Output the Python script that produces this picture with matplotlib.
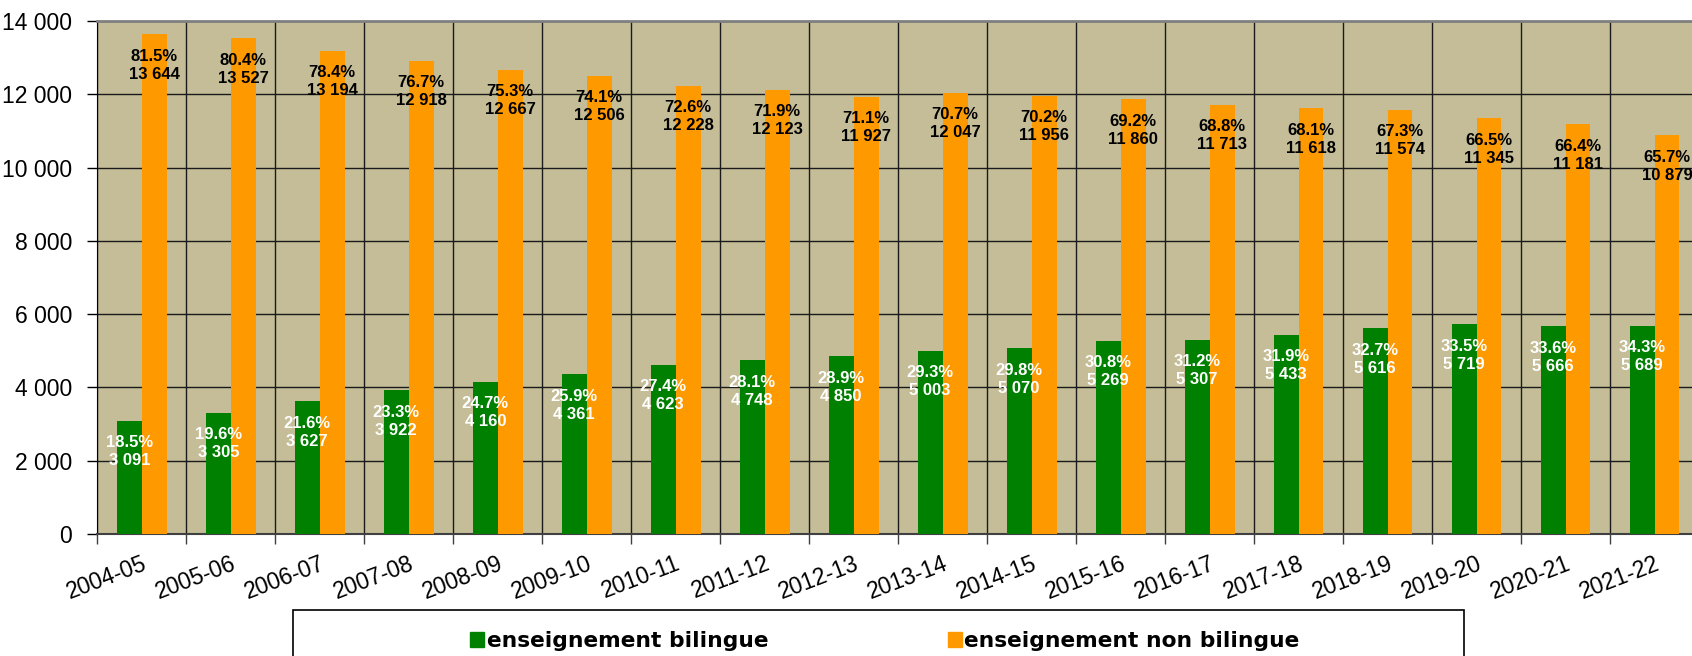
import numpy as np
import matplotlib.pyplot as plt
from matplotlib.patches import Patch, Rectangle
from matplotlib.ticker import FuncFormatter, MultipleLocator

years = ['2004-05', '2005-06', '2006-07', '2007-08', '2008-09', '2009-10',
         '2010-11', '2011-12', '2012-13', '2013-14', '2014-15', '2015-16',
         '2016-17', '2017-18', '2018-19', '2019-20', '2020-21', '2021-22']
bilingue = [3091, 3305, 3627, 3922, 4160, 4361, 4623, 4748, 4850,
            5003, 5070, 5269, 5307, 5433, 5616, 5719, 5666, 5689]
non_bilingue = [13644, 13527, 13194, 12918, 12667, 12506, 12228, 12123, 11927,
                12047, 11956, 11860, 11713, 11618, 11574, 11345, 11181, 10879]
pct_bilingue = [18.5, 19.6, 21.6, 23.3, 24.7, 25.9, 27.4, 28.1, 28.9,
                29.3, 29.8, 30.8, 31.2, 31.9, 32.7, 33.5, 33.6, 34.3]
pct_non_bilingue = [81.5, 80.4, 78.4, 76.7, 75.3, 74.1, 72.6, 71.9, 71.1,
                    70.7, 70.2, 69.2, 68.8, 68.1, 67.3, 66.5, 66.4, 65.7]
legend_labels = ['enseignement bilingue', 'enseignement non bilingue']

GREEN = '#008000'
ORANGE = '#FF9900'
BG = '#C4BD97'

plt.rcParams['font.family'] = ['Liberation Sans', 'DejaVu Sans']


def fmt(v):
    return f'{int(v):,}'.replace(',', ' ')


W, H = 1692, 656
fig = plt.figure(figsize=(W / 100, H / 100), dpi=100)
ax = fig.add_axes([97.3 / W, 1 - 534 / H, (1699 - 97.3) / W, (534 - 21) / H])

x = np.arange(len(years))
w = 0.28
ax.bar(x - w / 2, bilingue, w, color=GREEN, zorder=3)
ax.bar(x + w / 2, non_bilingue, w, color=ORANGE, zorder=3)

ax.set_facecolor(BG)
ax.set_xlim(-0.5, len(years) - 0.5)
ax.set_ylim(0, 14000)
ax.yaxis.set_major_locator(MultipleLocator(2000))
ax.yaxis.set_major_formatter(FuncFormatter(lambda v, p: fmt(v)))

# category boundaries carry ticks + gridlines, labels sit at centers
ax.set_xticks(np.arange(len(years) + 1) - 0.5)
ax.set_xticklabels([])
ax.set_xticks(x, labels=years, minor=True)
ax.tick_params(axis='x', which='major', direction='out', length=7, width=1, color='#404040')
ax.tick_params(axis='x', which='minor', length=0, labelsize=16.5, pad=13)
ax.tick_params(axis='y', direction='out', length=7, width=1, labelsize=16.5, pad=11)
for lbl in ax.get_xticklabels(minor=True):
    lbl.set_rotation(21)
    lbl.set_ha('right')
    lbl.set_rotation_mode('anchor')

ax.set_axisbelow(True)
ax.grid(True, which='major', color='#1a1a1a', lw=1, zorder=1)

ax.spines['top'].set_color('#808080')
ax.spines['top'].set_linewidth(2)
ax.spines['right'].set_visible(False)
ax.spines['left'].set_color('black')
ax.spines['bottom'].set_color('#404040')
ax.spines['bottom'].set_linewidth(1.5)

for i in range(len(years)):
    ax.annotate(f'{pct_bilingue[i]:.1f}%\n{fmt(bilingue[i])}',
                xy=(x[i] - w / 2, bilingue[i]), xytext=(0, -31),
                textcoords='offset pixels', ha='center', va='center',
                color='white', fontweight='bold', fontsize=12,
                linespacing=1.25, zorder=5)
    ax.annotate(f'{pct_non_bilingue[i]:.1f}%\n{fmt(non_bilingue[i])}',
                xy=(x[i] + w / 2, non_bilingue[i]), xytext=(0, -31),
                textcoords='offset pixels', ha='center', va='center',
                color='black', fontweight='bold', fontsize=12,
                linespacing=1.25, zorder=5)

# legend box (cut by the bottom edge)
fig.add_artist(Rectangle((293 / W, -0.05), 1171 / W, 0.05 + 46 / H,
                         transform=fig.transFigure, facecolor='white',
                         edgecolor='black', lw=1.2, zorder=1))
handles = [Patch(color=GREEN), Patch(color=ORANGE)]
leg = fig.legend(handles, legend_labels, loc='center',
                 bbox_to_anchor=(885 / W, 15 / H), ncol=2, frameon=False,
                 prop={'family': 'DejaVu Sans', 'weight': 'bold', 'size': 15.7},
                 handlelength=0.65, handleheight=0.65, handletextpad=0.1,
                 columnspacing=8.25, borderaxespad=0)
leg.set_zorder(5)

fig.savefig('out.png', dpi=100)
